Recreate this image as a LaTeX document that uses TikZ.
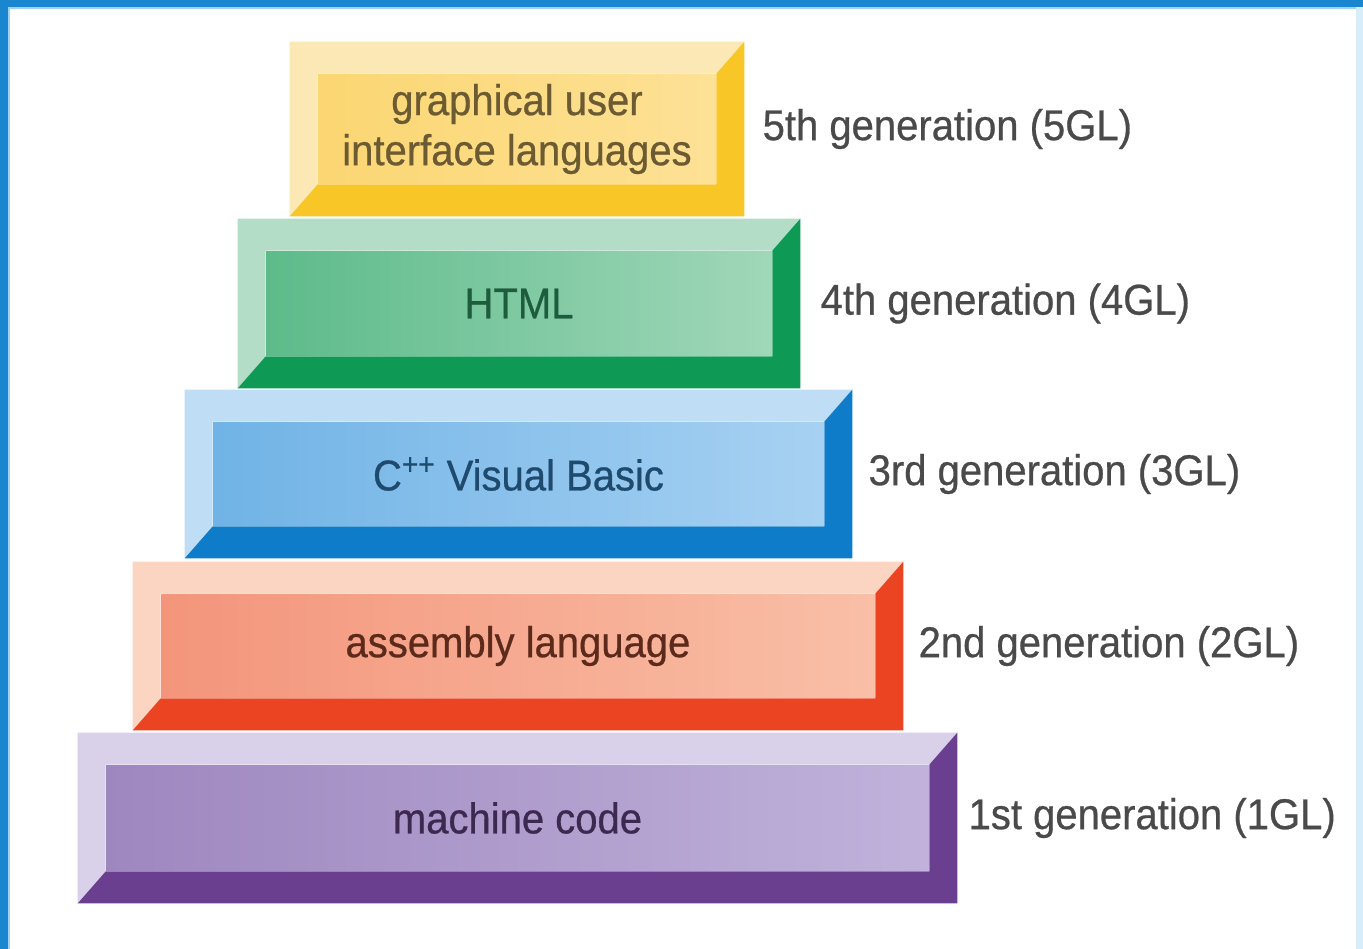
\documentclass[tikz,border=0pt]{standalone}
\usepackage{fontspec}
\usepackage{tikz}
\usetikzlibrary{positioning}
\newfontfamily\condfont[FakeStretch=0.93, FakeBold=0.6]{Liberation Sans}

\definecolor{frameblue}{HTML}{1B86D0}
\definecolor{framelight}{HTML}{9FD3F3}
\definecolor{labelgray}{HTML}{4A4A4A}

\definecolor{guilight}{HTML}{FCE8B4}
\definecolor{guiface}{HTML}{FBD672}
\definecolor{guifaceR}{HTML}{FDE196}
\definecolor{guidark}{HTML}{F8C627}
\definecolor{guitext}{HTML}{6B5A32}

\definecolor{htmllight}{HTML}{B4DDC8}
\definecolor{htmlface}{HTML}{5DBB8A}
\definecolor{htmlfaceR}{HTML}{A0D7B9}
\definecolor{htmldark}{HTML}{0E9A55}
\definecolor{htmltext}{HTML}{1D5C3D}

\definecolor{cpplight}{HTML}{BFDEF5}
\definecolor{cppface}{HTML}{70B3E6}
\definecolor{cppfaceR}{HTML}{A7D1F2}
\definecolor{cppdark}{HTML}{0E7CC9}
\definecolor{cpptext}{HTML}{1E4A6E}

\definecolor{asmlight}{HTML}{FCD4C2}
\definecolor{asmface}{HTML}{F3957B}
\definecolor{asmfaceR}{HTML}{F9BFA7}
\definecolor{asmdark}{HTML}{EA4423}
\definecolor{asmtext}{HTML}{5C2A1A}

\definecolor{mclight}{HTML}{D9D1E9}
\definecolor{mcface}{HTML}{9E87BF}
\definecolor{mcfaceR}{HTML}{C0B2DB}
\definecolor{mcdark}{HTML}{6B3F90}
\definecolor{mctext}{HTML}{3D2850}

\tikzstyle{outer} = [rectangle, inner sep=0pt]
\tikzstyle{face} = [rectangle, inner sep=0pt, align=center, font=\condfont\fontsize{24.5}{28.5}\selectfont]
\tikzstyle{gen} = [inner sep=0pt, text=labelgray, font=\condfont\fontsize{24.5}{28.5}\selectfont]

\begin{document}
\begin{tikzpicture}[x=0.02cm, y=-0.02cm]
  \useasboundingbox (0,0) rectangle (1363,949);
  \fill[white] (0,0) rectangle (1363,949);
  % frame
  \fill[frameblue] (0,0) rectangle (1363,7);
  \fill[frameblue] (0,0) rectangle (8,949);
  \fill[framelight] (8,7) rectangle (1356,9);
  \fill[framelight] (8,9) rectangle (10,949);
  \fill[framelight!40] (1356,7) rectangle (1363,949);

  % 5GL
  \node (gui_out) [outer, minimum width=9.08cm, minimum height=3.48cm] at (517,129) {};
  \node (gui) [face, minimum width=7.96cm, minimum height=2.20cm, left color=guiface, right color=guifaceR, text=guitext] at (gui_out) {graphical user\\interface languages};
  \fill[guilight] (gui_out.north west) -- (gui_out.north east) -- (gui.north east) -- (gui.north west) -- (gui.south west) -- (gui_out.south west) -- cycle;
  \fill[guidark] (gui_out.south west) -- (gui.south west) -- (gui.south east) -- (gui.north east) -- (gui_out.north east) -- (gui_out.south east) -- cycle;
  \node (gen5) [gen, right=0.36cm of gui_out] {5th generation (5GL)};

  % 4GL
  \node (html_out) [outer, minimum width=11.24cm, minimum height=3.38cm] at (519,303.5) {};
  \node (html) [face, minimum width=10.12cm, minimum height=2.10cm, left color=htmlface, right color=htmlfaceR, text=htmltext] at (html_out) {HTML};
  \fill[htmllight] (html_out.north west) -- (html_out.north east) -- (html.north east) -- (html.north west) -- (html.south west) -- (html_out.south west) -- cycle;
  \fill[htmldark] (html_out.south west) -- (html.south west) -- (html.south east) -- (html.north east) -- (html_out.north east) -- (html_out.south east) -- cycle;
  \node (gen4) [gen, right=0.40cm of html_out] {4th generation (4GL)};

  % 3GL
  \node (cpp_out) [outer, minimum width=13.34cm, minimum height=3.36cm] at (518.5,474) {};
  \node (cpp) [face, minimum width=12.22cm, minimum height=2.08cm, left color=cppface, right color=cppfaceR, text=cpptext] at (cpp_out) {C\textsuperscript{++} Visual Basic};
  \fill[cpplight] (cpp_out.north west) -- (cpp_out.north east) -- (cpp.north east) -- (cpp.north west) -- (cpp.south west) -- (cpp_out.south west) -- cycle;
  \fill[cppdark] (cpp_out.south west) -- (cpp.south west) -- (cpp.south east) -- (cpp.north east) -- (cpp_out.north east) -- (cpp_out.south east) -- cycle;
  \node (gen3) [gen, right=0.32cm of cpp_out] {3rd generation (3GL)};

  % 2GL
  \node (asm_out) [outer, minimum width=15.40cm, minimum height=3.36cm] at (518,646) {};
  \node (asm) [face, minimum width=14.28cm, minimum height=2.08cm, left color=asmface, right color=asmfaceR, text=asmtext] at (asm_out) {assembly language};
  \fill[asmlight] (asm_out.north west) -- (asm_out.north east) -- (asm.north east) -- (asm.north west) -- (asm.south west) -- (asm_out.south west) -- cycle;
  \fill[asmdark] (asm_out.south west) -- (asm.south west) -- (asm.south east) -- (asm.north east) -- (asm_out.north east) -- (asm_out.south east) -- cycle;
  \node (gen2) [gen, right=0.30cm of asm_out] {2nd generation (2GL)};

  % 1GL
  \node (mc_out) [outer, minimum width=17.58cm, minimum height=3.40cm] at (517.5,818) {};
  \node (mc) [face, minimum width=16.46cm, minimum height=2.12cm, left color=mcface, right color=mcfaceR, text=mctext] at (mc_out) {machine code};
  \fill[mclight] (mc_out.north west) -- (mc_out.north east) -- (mc.north east) -- (mc.north west) -- (mc.south west) -- (mc_out.south west) -- cycle;
  \fill[mcdark] (mc_out.south west) -- (mc.south west) -- (mc.south east) -- (mc.north east) -- (mc_out.north east) -- (mc_out.south east) -- cycle;
  \node (gen1) [gen, right=0.22cm of mc_out] {1st generation (1GL)};
\end{tikzpicture}
\end{document}
